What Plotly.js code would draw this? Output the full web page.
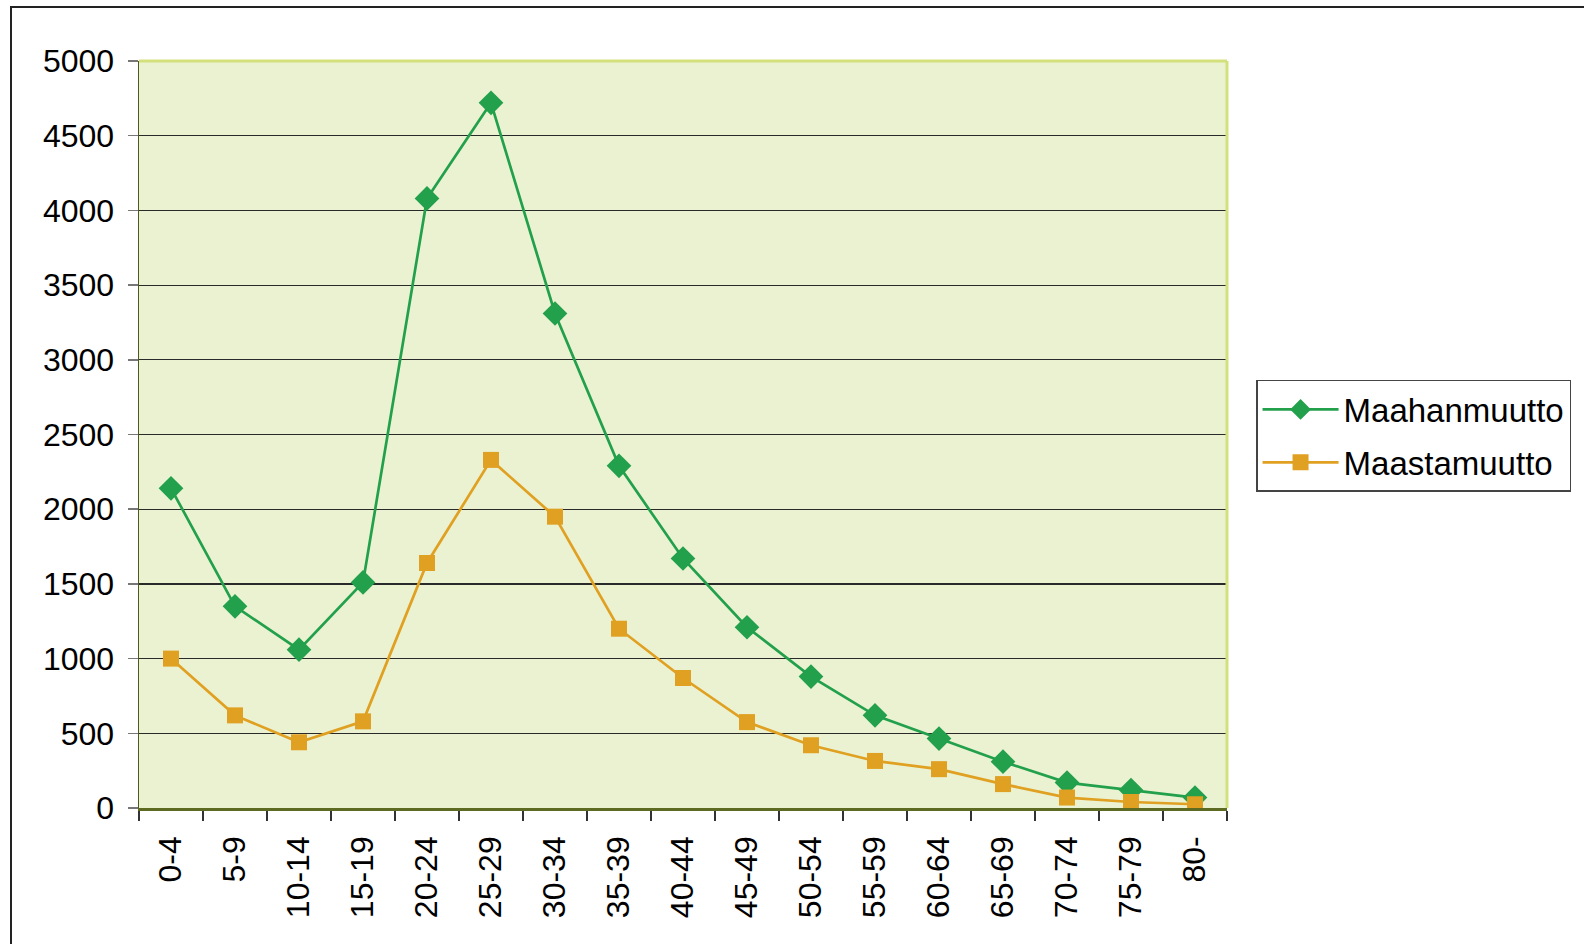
<!DOCTYPE html>
<html>
<head>
<meta charset="utf-8">
<script src="https://cdn.plot.ly/plotly-3.0.1.min.js"></script>
<style>
html,body{margin:0;padding:0;background:#fff;overflow:hidden;}
#frame{position:absolute;left:10px;top:6px;width:1600px;height:1000px;border-left:2px solid #222;border-top:2px solid #222;box-sizing:border-box;pointer-events:none;z-index:5;}
#chart{position:absolute;left:0;top:0;width:1584px;height:944px;}
</style>
</head>
<body>
<div id="chart"></div>
<div id="frame"></div>
<script>
const categories = ["0-4","5-9","10-14","15-19","20-24","25-29","30-34","35-39","40-44","45-49","50-54","55-59","60-64","65-69","70-74","75-79","80-"];
const maahanmuutto = [2140,1350,1060,1510,4080,4720,3310,2290,1670,1210,880,620,465,310,170,120,70];
const maastamuutto = [1000,620,440,580,1640,2330,1950,1200,870,575,420,315,260,160,70,40,25];
const seriesNames = ["Maahanmuutto","Maastamuutto"];
const yTicks = [0,500,1000,1500,2000,2500,3000,3500,4000,4500,5000];

const traces = [
  {x: categories, y: maahanmuutto, name: seriesNames[0], type: 'scatter', mode: 'lines+markers',
   line: {color: '#22a04b', width: 2.7}, marker: {symbol: 'diamond', size: 19, color: '#22a04b'}, legendgroup: 'a'},
  {x: categories, y: maastamuutto, name: seriesNames[1], type: 'scatter', mode: 'lines+markers',
   line: {color: '#e0a021', width: 2.7}, marker: {symbol: 'square', size: 16, color: '#e0a021'}, legendgroup: 'b'}
];

const layout = {
  width: 1584, height: 944,
  margin: {l: 139, r: 357, t: 61, b: 136},
  paper_bgcolor: '#ffffff',
  plot_bgcolor: '#ebf2d1',
  font: {family: '"Liberation Sans", Arial, sans-serif', size: 32, color: '#000'},
  showlegend: true,
  legend: {
    x: 1.0267, xanchor: 'left', y: 0.573, yanchor: 'top',
    bgcolor: '#ffffff', bordercolor: '#444', borderwidth: 1.5,
    font: {size: 33, color: '#000'}, itemwidth: 76, tracegroupgap: 7
  },
  xaxis: {
    type: 'category', range: [-0.5, 16.5], tickangle: -90, tickson: 'boundaries',
    ticks: 'outside', ticklen: 10, tickcolor: '#333', tickwidth: 1.5,
    showline: true, linecolor: '#5c6a22', linewidth: 2.5,
    showgrid: false, zeroline: false, ticklabelstandoff: 13,
    tickfont: {size: 32}
  },
  yaxis: {
    range: [0, 5000], tickvals: yTicks, ticktext: yTicks.map(String),
    ticks: 'outside', ticklen: 10, tickcolor: '#777', tickwidth: 1.5,
    showline: true, linecolor: '#4e5a1c', linewidth: 1.5,
    showgrid: true, gridcolor: '#2a2a2a', gridwidth: 1.2, zeroline: false,
    ticklabelstandoff: 7, tickfont: {size: 32}
  },
  shapes: [
    {type: 'line', xref: 'paper', yref: 'paper', x0: 0, x1: 1, y0: 1, y1: 1, line: {color: '#d3e07c', width: 3}, layer: 'above'},
    {type: 'line', xref: 'paper', yref: 'paper', x0: 1, x1: 1, y0: 0, y1: 1, line: {color: '#d3e07c', width: 3}, layer: 'above'}
  ]
};

Plotly.newPlot('chart', traces, layout, {displayModeBar: false, staticPlot: true});
</script>
</body>
</html>
